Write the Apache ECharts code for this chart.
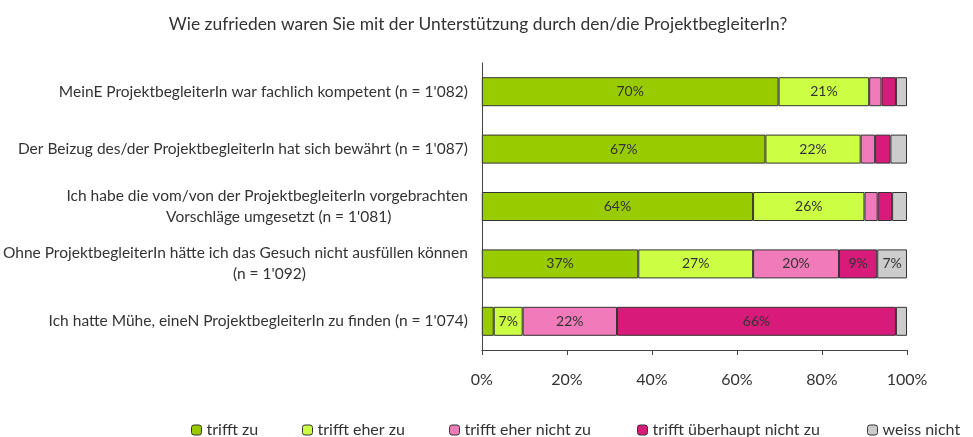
<!DOCTYPE html>
<html><head><meta charset="utf-8">
<script src="https://cdn.jsdelivr.net/npm/echarts@6/dist/echarts.min.js"></script>
<style>html,body{margin:0;padding:0;background:#fff}#c{width:973px;height:437px}</style>
</head><body><div id="c"></div>
<script>
const title = "Wie zufrieden waren Sie mit der Unterstützung durch den/die ProjektbegleiterIn?";
const categories = [
  "MeinE ProjektbegleiterIn war fachlich kompetent (n = 1'082)",
  "Der Beizug des/der ProjektbegleiterIn hat sich bewährt (n = 1'087)",
  "Ich habe die vom/von der ProjektbegleiterIn vorgebrachten\nVorschläge umgesetzt (n = 1'081)",
  "Ohne ProjektbegleiterIn hätte ich das Gesuch nicht ausfüllen können\n(n = 1'092)",
  "Ich hatte Mühe, eineN ProjektbegleiterIn zu finden (n = 1'074)"
];
const seriesNames = ["trifft zu", "trifft eher zu", "trifft eher nicht zu", "trifft überhaupt nicht zu", "weiss nicht"];
const trifftZu        = [69.8, 66.7, 63.8, 36.8, 2.8];
const trifftEherZu    = [21.3, 22.4, 26.2, 27.0, 6.8];
const eherNichtZu     = [2.9, 3.4, 3.1, 20.2, 22.2];
const ueberhauptNicht = [3.4, 3.6, 3.4, 9.0, 65.6];
const weissNicht      = [2.6, 3.9, 3.5, 7.0, 2.6];
const xTicks = [0, 20, 40, 60, 80, 100];

const values = [trifftZu, trifftEherZu, eherNichtZu, ueberhauptNicht, weissNicht];
const colors = ["#99cc00", "#ccff44", "#f07aba", "#d81b7a", "#cccccc"];
const FONT = "Lato";
const legendLeft = [191, 302, 449, 637, 867];
// second-line horizontal shift styles (by original category index)
const secondLineStyle = {2: 's3', 3: 's4'};

const cats = categories.slice().reverse();
const chart = echarts.init(document.getElementById('c'), null, {renderer: 'canvas'});
const base = {fontFamily: FONT, fontSize: 15.5, color: '#333', lineHeight: 21, align: 'center'};
chart.setOption({
  animation: false,
  textStyle: {fontFamily: FONT},
  title: {text: title, left: 473, textAlign: 'center', top: 11,
    textStyle: {fontFamily: FONT, fontSize: 17.4, fontWeight: 'normal', color: '#333'}},
  legend: seriesNames.map((n, i) => ({
    data: [n], left: legendLeft[i], top: 422, itemWidth: 10, itemHeight: 10, itemGap: 4,
    padding: 0,
    textStyle: {fontFamily: FONT, fontSize: 16, color: '#333'},
    itemStyle: {borderColor: '#333', borderWidth: 1}
  })),
  grid: {left: 481, right: 66, top: 63, bottom: 87, containLabel: false},
  xAxis: {
    type: 'value', min: 0, max: 100, interval: 20,
    axisLine: {show: true, lineStyle: {color: '#444'}},
    axisTick: {show: true, length: 5, lineStyle: {color: '#444'}},
    splitLine: {show: false},
    axisLabel: {formatter: v => xTicks.includes(v) ? v + '%' : '', fontFamily: FONT, fontSize: 16, color: '#333', margin: 22}
  },
  yAxis: {
    type: 'category', data: cats,
    axisLine: {show: true, lineStyle: {color: '#444'}},
    axisTick: {show: false},
    axisLabel: {
      fontFamily: FONT, fontSize: 15.5, color: '#333', margin: 14, lineHeight: 21,
      formatter: (v) => {
        const idx = categories.indexOf(v);
        const lines = v.split('\n');
        return lines.map((l, k) => '{' + (k > 0 && secondLineStyle[idx] ? secondLineStyle[idx] : 'c') + '|' + l + '}').join('\n');
      },
      rich: {
        c: Object.assign({}, base),
        s3: Object.assign({}, base, {padding: [0, 0, 0, 23]}),
        s4: Object.assign({}, base, {padding: [0, 0, 0, 68]})
      }
    }
  },
  series: seriesNames.map((n, i) => ({
    name: n, type: 'bar', stack: 'total', barWidth: 29,
    data: values[i].slice().reverse(),
    itemStyle: {color: colors[i], borderColor: '#333', borderWidth: 1},
    label: {show: true, position: 'inside', fontFamily: FONT, fontSize: 14, color: '#333',
      formatter: p => p.value >= 5 ? Math.round(p.value) + '%' : ''}
  }))
});
</script></body></html>
